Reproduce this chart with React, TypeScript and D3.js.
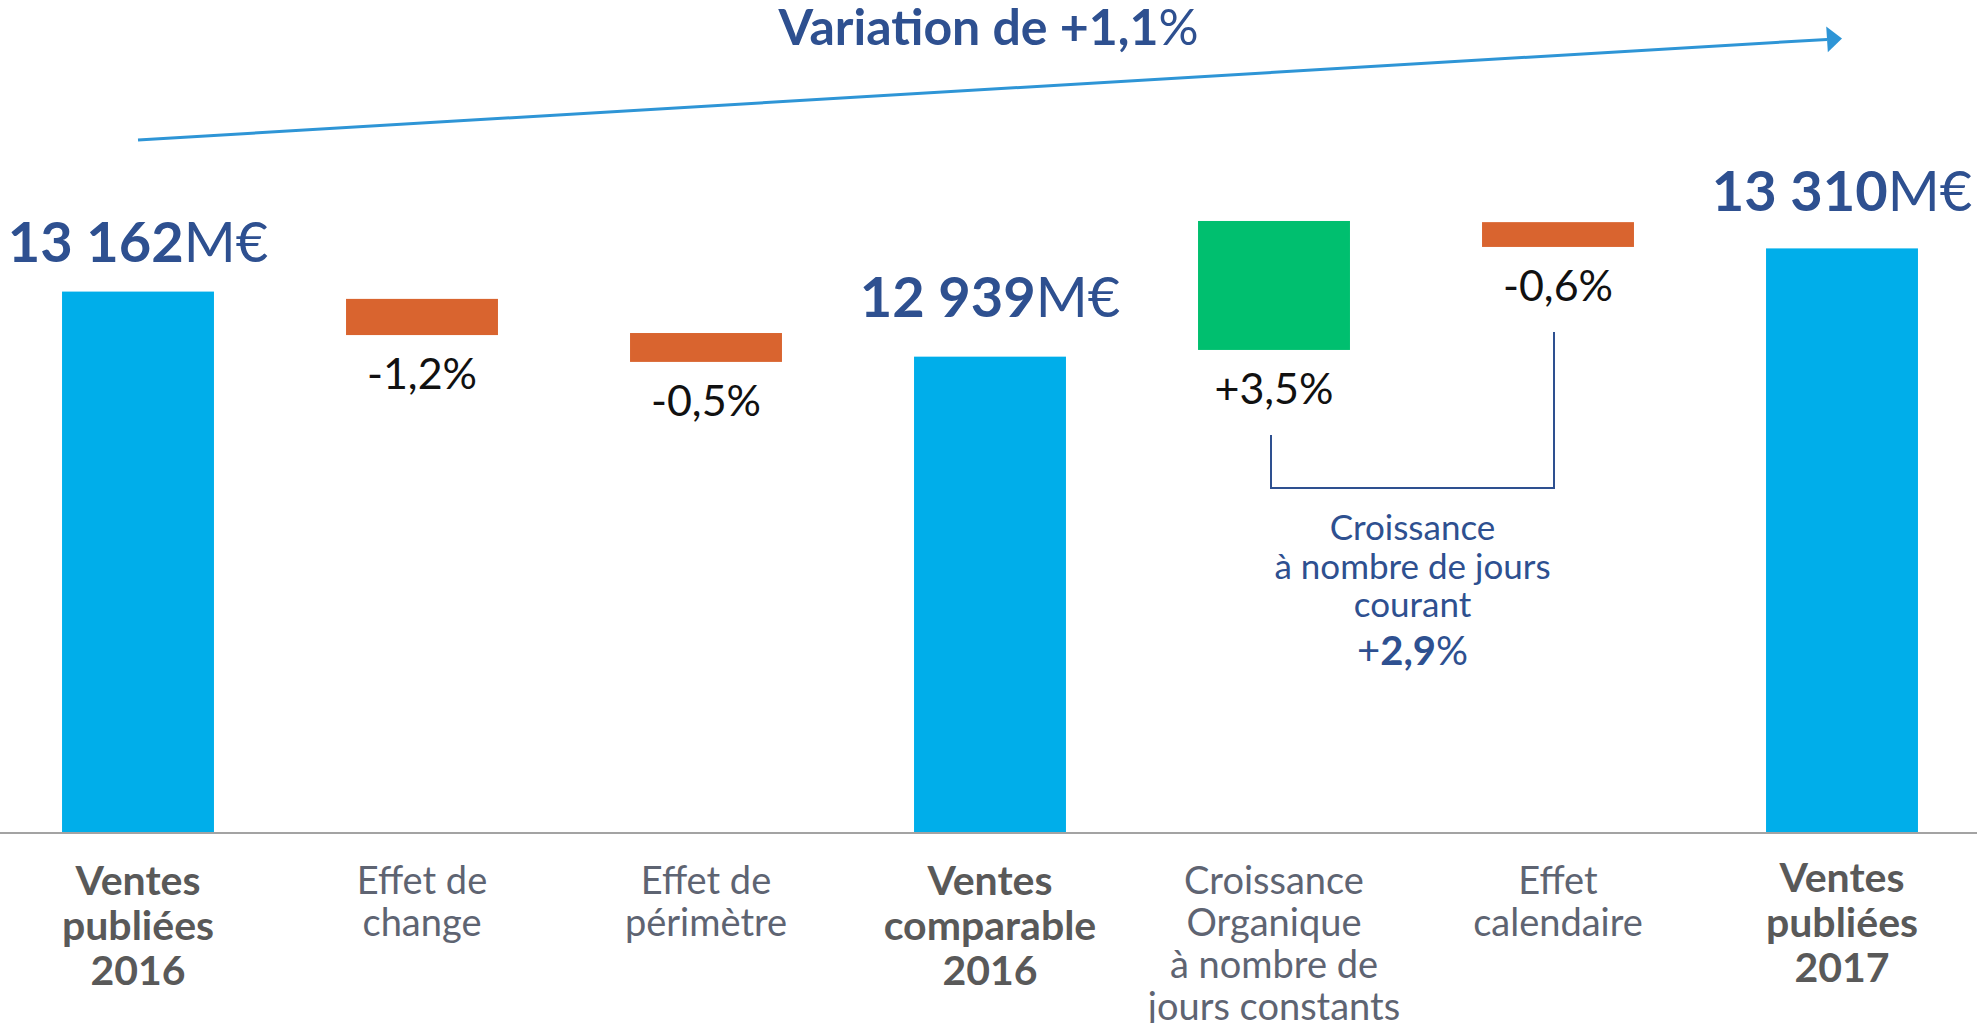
import React from "react";
import * as d3 from "d3";

// ---------- data ----------
const categories = [
  "Ventes\npubliées\n2016",
  "Effet de\nchange",
  "Effet de\npérimètre",
  "Ventes\ncomparable\n2016",
  "Croissance\nOrganique\nà nombre de\njours constants",
  "Effet\ncalendaire",
  "Ventes\npubliées\n2017",
];
const isTotal = [true, false, false, true, false, false, true];
// published / comparable sales, M€
const salesValues = [13162, null, null, 12939, null, null, 13310];
// effects in % (labels)
const effectPct = [null, -1.2, -0.5, null, 3.5, -0.6, null];
// floating bar extents as drawn (M€ scale)
const effectFrom = [null, 13137, 13020, null, 12962, 13400, null];
const effectTo = [null, 13013, 12921, null, 13404, 13315, null];
const totalVariationPct = 1.1;
const currentDaysGrowthPct = 2.9;
const bracketText = ["Croissance", "à nombre de jours", "courant"];
const axisMin = 11310;
const axisRef = 13310;

// ---------- styles ----------
const W = 1977;
const H = 1023;
const FONT = "Lato, 'DejaVu Sans', sans-serif";
const DARK_BLUE = "#2E5090";
const BAR_BLUE = "#00AEEA";
const ORANGE = "#D9642F";
const GREEN = "#00BF6F";
const ARROW = "#2E95D6";

const loc = d3.formatLocale({
  decimal: ",",
  thousands: " ",
  grouping: [3],
  currency: ["", "€"],
  minus: "-",
});
const fmtInt = loc.format(",d");
const fmtPct = (v: number) => (v > 0 ? "+" : "") + loc.format(".1f")(v) + "%";
const fmtNum1 = loc.format(".1f");

export default function App() {
  const x = d3
    .scaleBand<string>()
    .domain(categories)
    .range([-4, 1984])
    .paddingInner(0.465)
    .paddingOuter(0.2325);
  const y = d3.scaleLinear().domain([axisMin, axisRef]).range([832, 248.4]);
  const bw = x.bandwidth();
  const cx = (i: number) => (x(categories[i]) as number) + bw / 2;

  const baseY = y(axisMin);

  // arrow
  const ax0 = cx(0);
  const ay0 = 140;
  const ax1 = cx(categories.length - 1);
  const ay1 = 38.5;
  const ang = Math.atan2(ay1 - ay0, ax1 - ax0);
  const headLen = 15;
  const headHalf = 13;
  const bx = ax1 - headLen * Math.cos(ang);
  const by = ay1 - headLen * Math.sin(ang);
  const head = [
    [ax1, ay1],
    [bx + headHalf * Math.sin(ang), by - headHalf * Math.cos(ang)],
    [bx - headHalf * Math.sin(ang), by + headHalf * Math.cos(ang)],
  ];

  // bracket between organic growth and calendar effect
  const bi0 = 4;
  const bi1 = 5;
  const bxl = cx(bi0) - 3;
  const bxr = cx(bi1) - 4;
  const bBottom = 488;
  const bTopL = y(Math.min(effectFrom[bi0]!, effectTo[bi0]!)) + 85;
  const bTopR = y(Math.min(effectFrom[bi1]!, effectTo[bi1]!)) + 85;
  const bMid = (bxl + bxr) / 2;

  const labelOffset = [-30, 0, 0, -40, 0, 0, -37];

  return (
    <svg
      width={W}
      height={H}
      style={{ position: "absolute", left: 0, top: 0, background: "#fff" }}
      fontFamily={FONT}
    >
      {/* title */}
      <text x={W / 2} y={45} textAnchor="middle" fontSize={50} fill={DARK_BLUE}>
        <tspan fontWeight={700}>Variation de +{fmtNum1(totalVariationPct)}</tspan>
        <tspan fontWeight={400}>%</tspan>
      </text>

      {/* arrow */}
      <line x1={ax0} y1={ay0} x2={bx} y2={by} stroke={ARROW} strokeWidth={3} />
      <polygon points={head.map((p) => p.join(",")).join(" ")} fill={ARROW} />

      {/* bars */}
      {categories.map((c, i) => {
        if (isTotal[i]) {
          const v = salesValues[i]!;
          return (
            <rect
              key={c}
              x={x(c)}
              y={y(v)}
              width={bw}
              height={baseY - y(v)}
              fill={BAR_BLUE}
            />
          );
        }
        const a = effectFrom[i]!;
        const b = effectTo[i]!;
        const top = y(Math.max(a, b));
        const bot = y(Math.min(a, b));
        return (
          <rect
            key={c}
            x={x(c)}
            y={top}
            width={bw}
            height={bot - top}
            fill={(effectPct[i] as number) < 0 ? ORANGE : GREEN}
          />
        );
      })}

      {/* baseline */}
      <line x1={0} x2={W} y1={baseY + 1} y2={baseY + 1} stroke="#A3A3A3" strokeWidth={2} />

      {/* total labels */}
      {categories.map((c, i) =>
        isTotal[i] ? (
          <text
            key={"t" + c}
            x={cx(i)}
            y={y(salesValues[i]!) + labelOffset[i]}
            textAnchor="middle"
            fontSize={56}
            fill={DARK_BLUE}
          >
            <tspan fontWeight={700}>{fmtInt(salesValues[i]!)}</tspan>
            <tspan fontWeight={400}>M€</tspan>
          </text>
        ) : null
      )}

      {/* effect labels */}
      {categories.map((c, i) =>
        !isTotal[i] ? (
          <text
            key={"e" + c}
            x={cx(i)}
            y={y(Math.min(effectFrom[i]!, effectTo[i]!)) + 54}
            textAnchor="middle"
            fontSize={43}
            fill="#111"
          >
            {fmtPct(effectPct[i]!)}
          </text>
        ) : null
      )}

      {/* bracket */}
      <path
        d={`M${bxl},${bTopL}V${bBottom}H${bxr}V${bTopR}`}
        fill="none"
        stroke={DARK_BLUE}
        strokeWidth={2}
      />
      <text textAnchor="middle" fontSize={35} fill={DARK_BLUE}>
        {bracketText.map((t, k) => (
          <tspan key={k} x={bMid} y={540 + k * 38.5}>
            {t}
          </tspan>
        ))}
        <tspan x={bMid} y={665} fontSize={40}>
          +
        </tspan>
        <tspan fontSize={40} fontWeight={700}>
          {fmtNum1(currentDaysGrowthPct)}
        </tspan>
        <tspan fontSize={40}>%</tspan>
      </text>

      {/* category labels */}
      {categories.map((c, i) => {
        const lines = c.split("\n");
        const bold = isTotal[i];
        const lh = bold ? 45 : 42;
        const y0 = bold ? (i === categories.length - 1 ? 892 : 895) : 894;
        return (
          <text
            key={"c" + c}
            textAnchor="middle"
            fontSize={bold ? 41 : 38}
            fontWeight={bold ? 700 : 400}
            fill={bold ? "#595959" : "#5E6472"}
          >
            {lines.map((l, k) => (
              <tspan key={k} x={cx(i)} y={y0 + k * lh}>
                {l}
              </tspan>
            ))}
          </text>
        );
      })}
    </svg>
  );
}
